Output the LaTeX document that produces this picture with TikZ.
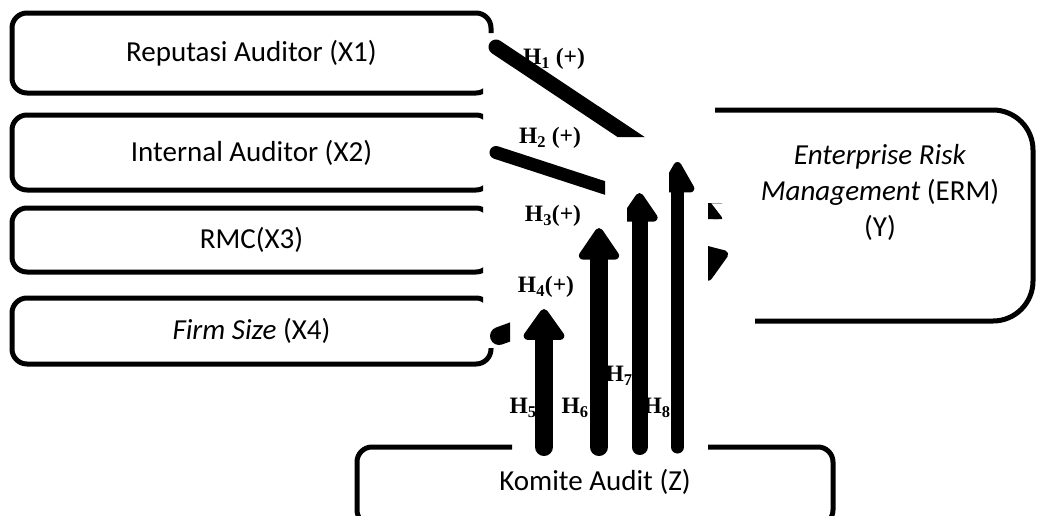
\documentclass[tikz,border=0pt]{standalone}
\usepackage{fontspec}
\setmainfont{Carlito}
\newfontfamily\hypfont{Liberation Serif}
\usetikzlibrary{arrows.meta,calc}

\tikzset{
  box/.style={draw, line width=5pt, rounded corners=15pt, inner sep=0pt, outer sep=0pt,
              font=\fontsize{29}{35}\selectfont},
  varlabel/.style={inner sep=0pt, font=\fontsize{29}{36}\selectfont},
  hyp/.style={inner sep=0pt, font=\hypfont\bfseries\fontsize{23.5}{27}\selectfont},
  diag/.style={line width=#1, line cap=round,
               -{Triangle[length=34pt,width=44pt,line width=8pt,round]}},
  vert/.style n args={3}{line width=#1, line cap=round,
               -{Triangle[length=#2,width=#3,line width=8pt,round]}},
}

\begin{document}
\begin{tikzpicture}[x=1pt,y=-1pt]
\useasboundingbox (0,0) rectangle (1039,515);
\clip (0,0) rectangle (1039,515);

% variable boxes; their outlines are cut away where the arrow area lies over them
% (outer frame and inner hole run in opposite directions)
\begin{scope}
  \clip (-20,-20) -- (1060,-20) -- (1060,540) -- (-20,540) -- cycle
    (483,33) -- (483,348) -- (512,348) -- (512,460) -- (708,460) -- (708,345)
    -- (755,345) -- (755,300) -- (715,300) -- (715,33) -- cycle;
  \node[box, minimum width=479pt, minimum height=80pt] (X1) at (251.5,53) {Reputasi Auditor (X1)};
  \node[box, minimum width=479pt, minimum height=75pt] (X2) at (251.5,152.5) {Internal Auditor (X2)};
  \node[box, minimum width=479pt, minimum height=64pt] (X3) at (251.5,240) {RMC(X3)};
  \node[box, minimum width=479pt, minimum height=66pt] (X4) at (251.5,331) {\textit{Firm Size} (X4)};
  \node[box, rounded corners=40pt, minimum width=393pt, minimum height=211pt] (Y) at (836.5,215.5) {};
  \node[box, minimum width=476pt, minimum height=78pt] (Z) at (595,486) {};
\end{scope}

\node[varlabel, align=center] (Ytext) at (880,192)
  {\textit{Enterprise Risk}\\\textit{Management} (ERM)\\(Y)};
\node[varlabel] (Ztext) at (595,482) {Komite Audit (Z)};

% hypothesis labels
\node[hyp] (l1) at (554,59)  {H\textsubscript{1} (+)};
\node[hyp] (l2) at (550,138) {H\textsubscript{2} (+)};
\node[hyp] (l3) at (553,216) {H\textsubscript{3}(+)};
\node[hyp] (l4) at (546,287) {H\textsubscript{4}(+)};
\node[hyp] (l5) at (523,408) {H\textsubscript{5}};
\node[hyp] (l6) at (575,408) {H\textsubscript{6}};
\node[hyp] (l7) at (619,376) {H\textsubscript{7}};
\node[hyp] (l8) at (657,408) {H\textsubscript{8}};

% direct effects X -> Y, only partly visible
\begin{scope}
  \clip (480,30) rectangle (605,215)
        (605,30) rectangle (708,137)
        (480,300) rectangle (510,352)
        (708,203) rectangle (722,219)
        (708,243) rectangle (735,285);
  \draw[diag=15pt] ($(X1.east)+(5,-6)$) -- ($(Y.west)+(88,-14)$);
  \draw[diag=13pt] ($(X2.east)+(5,0)$) -- ($(Y.west)+(88,12.5)$);
  \draw[diag=18pt] ($(X4.east)+(8,5)$) -- ($(Y.west)+(88,37.5)$);
\end{scope}

% moderating effects from the audit committee
\coordinate (t5) at (544,309);
\coordinate (t6) at (599,228);
\coordinate (t7) at (639.5,193);
\coordinate (t8) at (677.5,162);
\draw[vert={18pt}{34pt}{46pt}] (Z.north -| t5) -- (t5);
\draw[vert={18pt}{35pt}{45pt}] (Z.north -| t6) -- (t6);
\begin{scope}
  \clip (627,150) rectangle (700,470);
  \draw[vert={16pt}{32pt}{41pt}] (Z.north -| t7) -- (t7);
\end{scope}
\begin{scope}
  \clip (669,140) rectangle (720,470);
  \draw[vert={13pt}{35pt}{37pt}] (Z.north -| t8) -- (t8);
\end{scope}
\end{tikzpicture}
\end{document}
